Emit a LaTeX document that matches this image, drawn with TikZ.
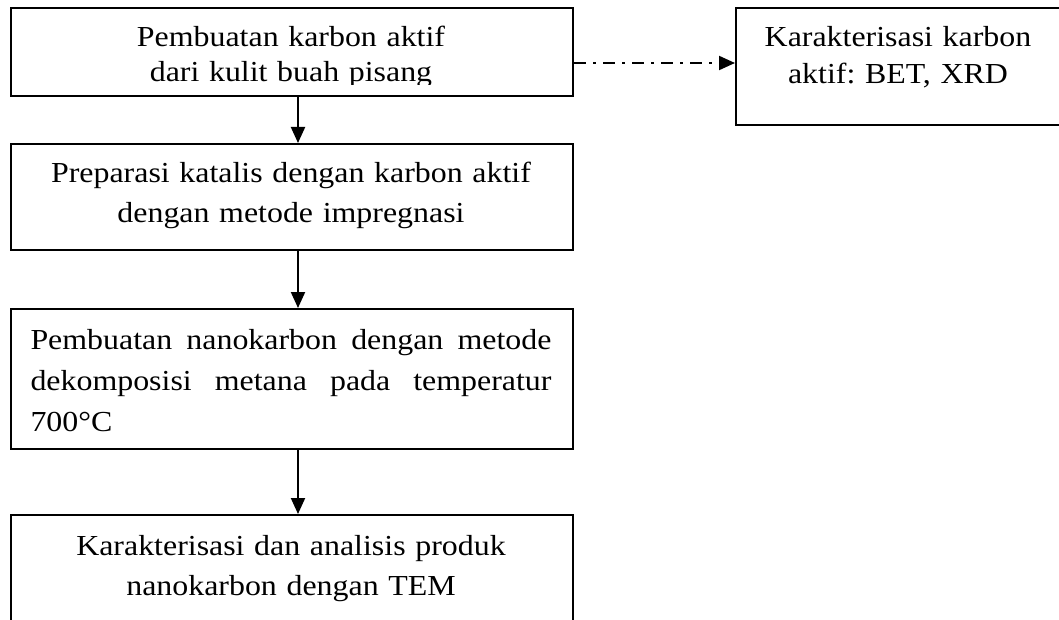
\documentclass[tikz,border=0pt]{standalone}
\usepackage{fontspec}
\setmainfont{Liberation Serif}[FakeStretch=1.1]
\usetikzlibrary{arrows.meta}
\newcommand{\ukuran}[1]{\fontsize{14.5}{#1}\selectfont\frenchspacing}
\begin{document}
\begin{tikzpicture}[x=0.5pt,y=-0.5pt,>={Triangle[length=8pt,width=7pt]},
		kotak/.style={draw,line width=1pt,inner sep=0pt,anchor=north west,minimum width=281pt},
		teks/.style={inner sep=0pt,anchor=base,align=center,text width=270pt},
		panah/.style={->,line width=1pt}]
				\useasboundingbox (0,0) rectangle (1059,620);
				\clip (0,0) rectangle (1059,620);
				\node[kotak,minimum height=44pt] (karbon) at (10,7) {};
				\node[kotak,minimum height=53pt] (katalis) at (10,143) {};
				\node[kotak,minimum height=70pt] (nano) at (10,308) {};
				\node[kotak,minimum height=75pt] (tem) at (10,514) {};
				\node[kotak,minimum height=58.5pt,minimum width=170pt] (bet) at (735,7) {};
				\begin{scope}
					\clip (10,7) rectangle (572,85);
					\node[teks,font={\ukuran{17.5}}] (tkarbon) at (291,47) {Pembuatan karbon aktif\\dari kulit buah pisang};
				\end{scope}
				\node[teks,font={\ukuran{20}}] (tkatalis) at (291,183) {Preparasi katalis dengan karbon aktif\\dengan metode impregnasi};
				\node[teks,font={\ukuran{20.5}},align=justify,text width=260.5pt] (tnano) at (291,349) {Pembuatan nanokarbon dengan metode\linebreak dekomposisi metana pada temperatur\linebreak 700°C};
				\node[teks,font={\ukuran{20.25}}] (ttem) at (291,555) {Karakterisasi dan analisis produk\\nanokarbon dengan TEM};
				\node[teks,font={\ukuran{18.5}},text width=150pt] (tbet) at (898,47) {Karakterisasi karbon\\aktif: BET, XRD};
				\draw[panah] ([xshift=3pt]karbon.south) -- ([xshift=3pt]katalis.north);
				\draw[panah] ([xshift=3pt]katalis.south) -- ([xshift=3pt]nano.north);
				\draw[panah] ([xshift=3pt]nano.south) -- ([xshift=3pt]tem.north);
				\coordinate (ujung) at ([yshift=-5.5pt]karbon.east);
				\draw[panah,dash pattern=on 6pt off 3.5pt on 1.5pt off 3.5pt] (ujung) -- (ujung -| bet.west);
		\end{tikzpicture}
\end{document}
